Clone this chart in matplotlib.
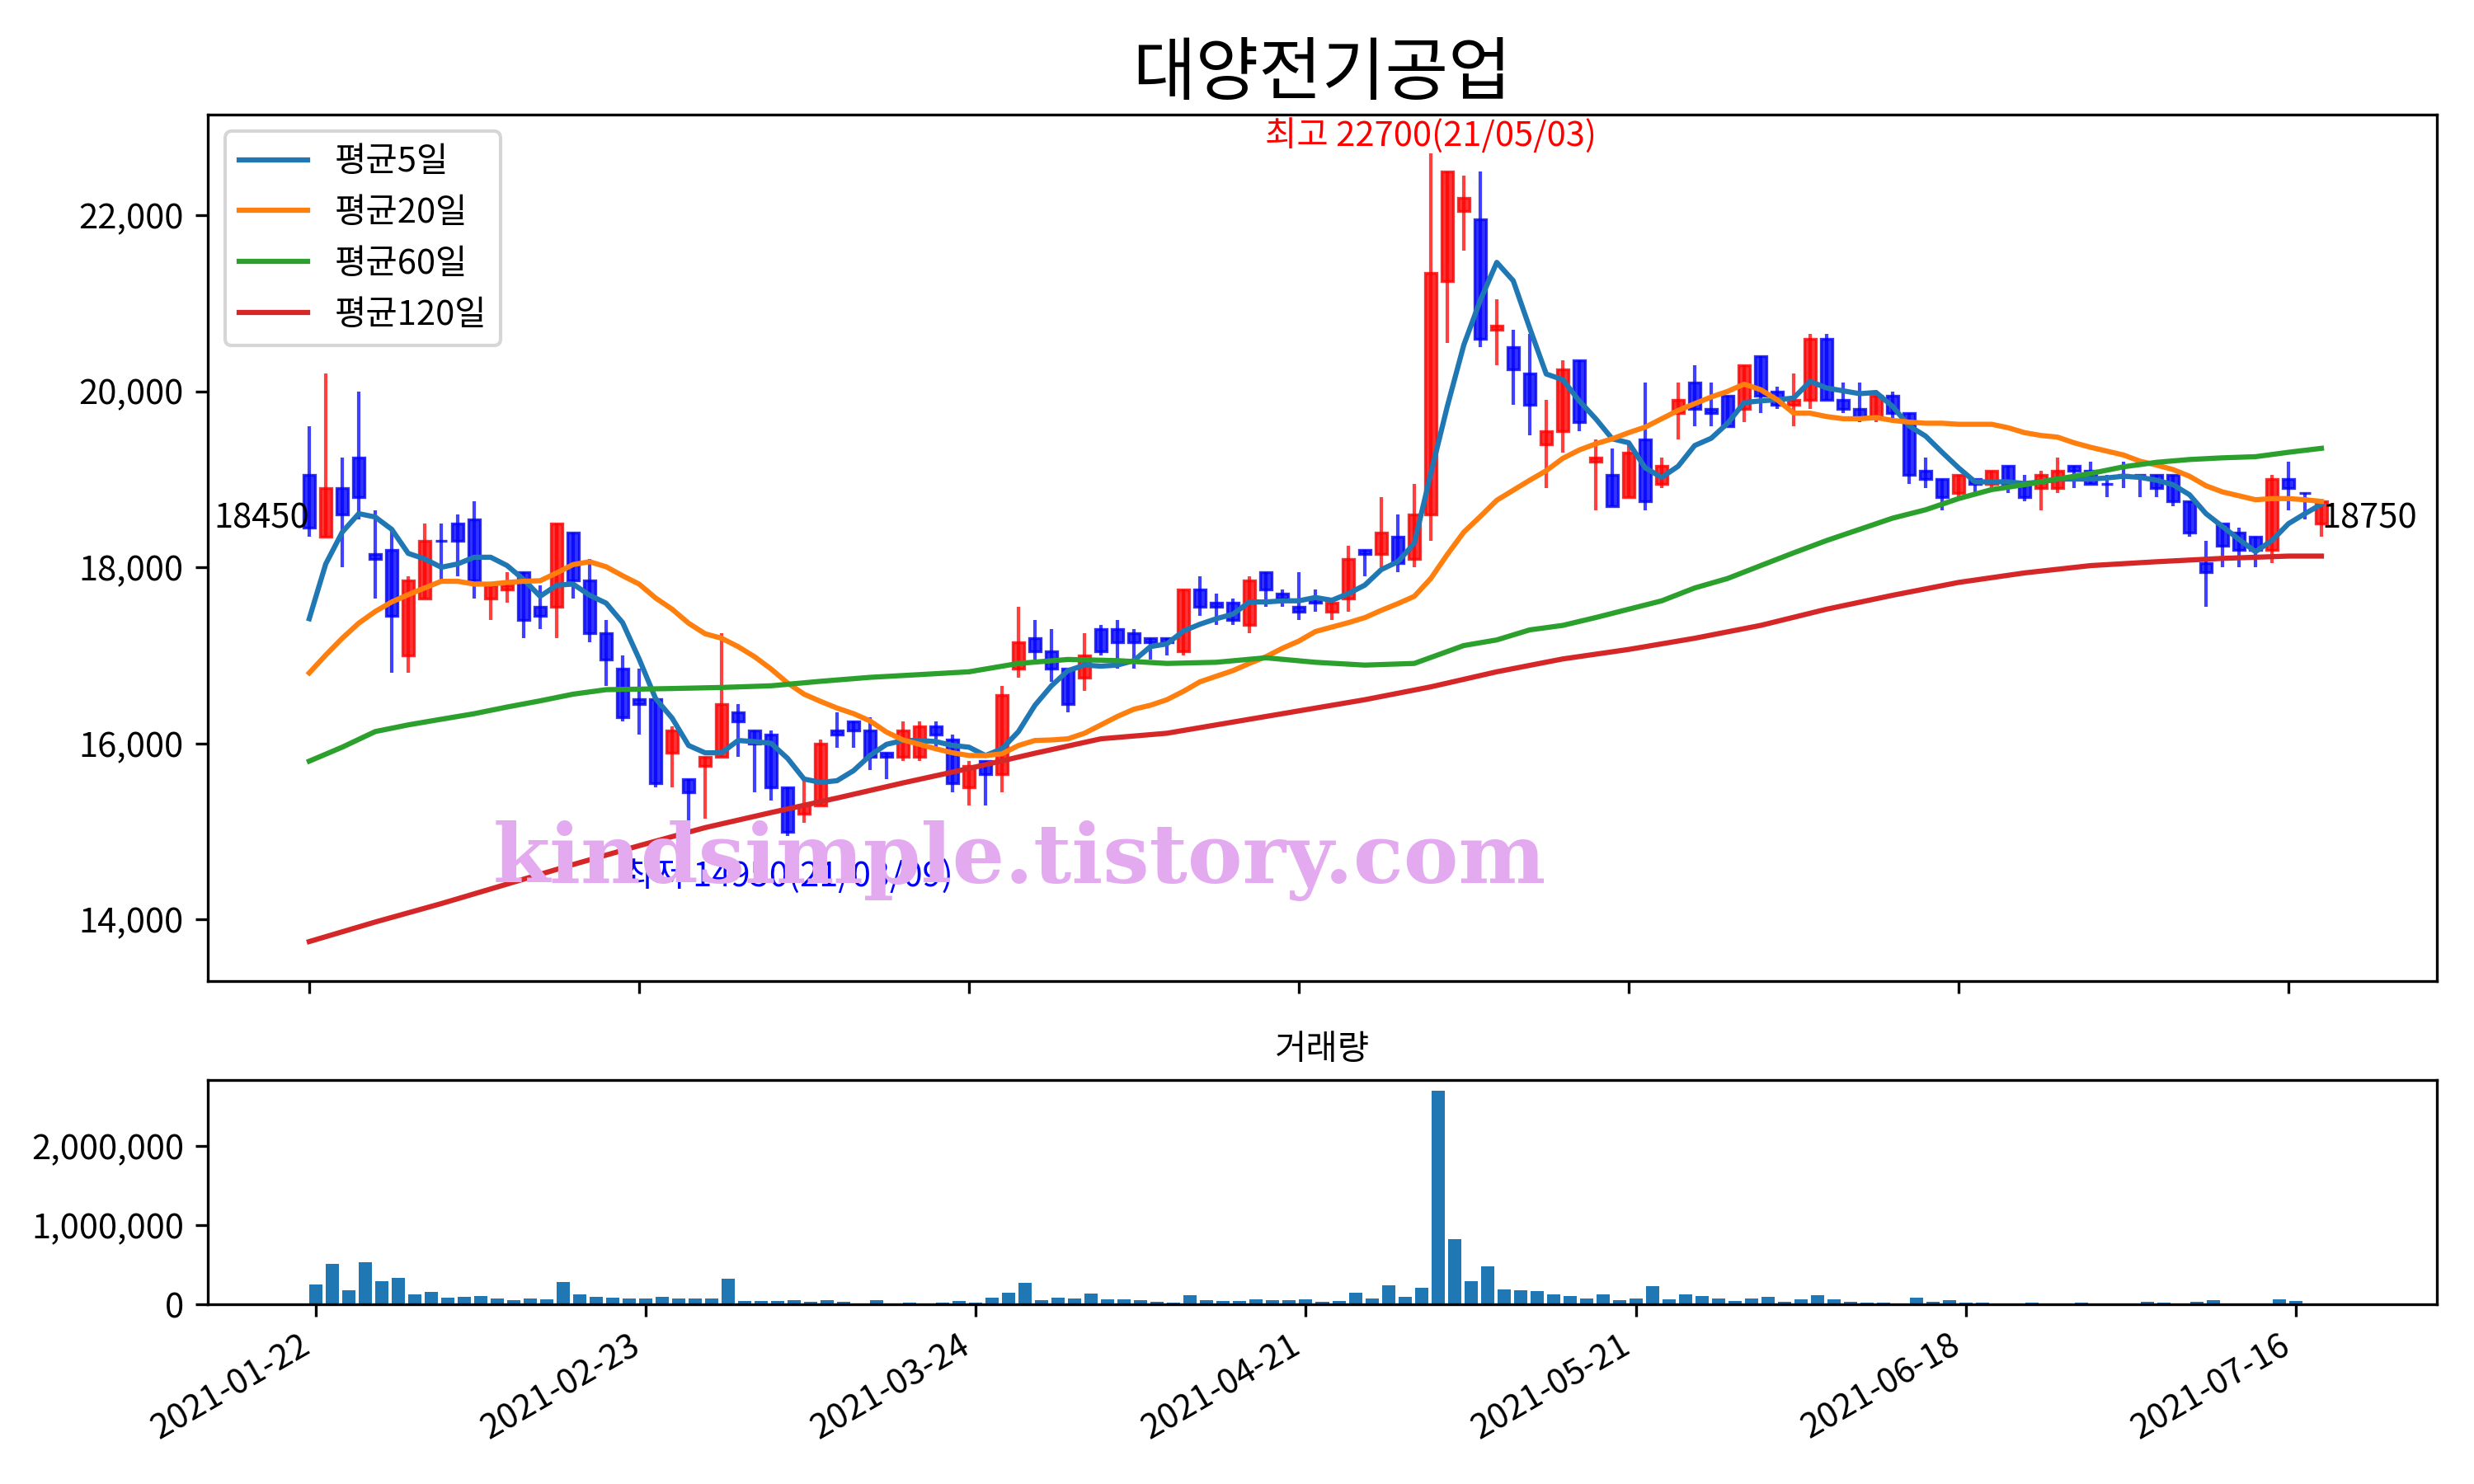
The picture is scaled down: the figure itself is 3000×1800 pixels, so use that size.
import matplotlib
matplotlib.use('Agg')
import matplotlib.pyplot as plt
from matplotlib.patches import Rectangle
from matplotlib.ticker import FuncFormatter

plt.rcParams['font.family'] = ['Noto Sans CJK KR', 'DejaVu Sans']
plt.rcParams['axes.unicode_minus'] = False

title = '대양전기공업'
tick_pos = [0, 20, 40, 60, 80, 100, 120]
tick_dates = ['2021-01-22', '2021-02-23', '2021-03-24', '2021-04-21',
              '2021-05-21', '2021-06-18', '2021-07-16']

opens = [19050, 18350, 18900, 19250, 18150, 18200, 17000, 17650, 18300, 18500,
         18550, 17650, 17750, 17950, 17550, 17550, 18400, 17850, 17250, 16850,
         16500, 16500, 15900, 15600, 15750, 15850, 16350, 16150, 16100, 15500,
         15200, 15300, 16150, 16250, 16150, 15900, 15850, 15850, 16200, 16050,
         15500, 15800, 15650, 16850, 17200, 17050, 16850, 16750, 17300, 17300,
         17250, 17200, 17200, 17050, 17750, 17600, 17600, 17350, 17950, 17700,
         17550, 17650, 17500, 17650, 18200, 18150, 18350, 18100, 18600, 21250,
         22050, 21950, 20700, 20500, 20200, 19400, 19550, 20350, 19200, 19050,
         18800, 19450, 18950, 19750, 20100, 19800, 19950, 19800, 20400, 20000,
         19850, 19900, 20600, 19900, 19800, 19700, 19950, 19750, 19100, 19000,
         18850, 19000, 18950, 19150, 18950, 18900, 18900, 19150, 19100, 18950,
         19050, 19050, 19050, 19050, 18750, 18050, 18500, 18400, 18350, 18200,
         19000, 18850, 18500]
highs = [19600, 20200, 19250, 20000, 18650, 18450, 17900, 18500, 18500, 18600,
         18750, 17800, 17950, 17950, 17800, 18500, 18400, 18100, 17400, 17000,
         16850, 16500, 16200, 15600, 15850, 17250, 16450, 16150, 16150, 15500,
         15600, 16050, 16350, 16250, 16300, 15900, 16250, 16250, 16250, 16100,
         15800, 15800, 16650, 17550, 17400, 17300, 16850, 17250, 17350, 17400,
         17300, 17200, 17200, 17750, 17900, 17700, 17650, 17900, 17950, 17750,
         17950, 17750, 17650, 18250, 18200, 18800, 18600, 18950, 22700, 22500,
         22450, 22500, 21050, 20700, 20650, 19900, 20350, 20350, 19450, 19350,
         19400, 20100, 19250, 20100, 20300, 20100, 19950, 20300, 20400, 20050,
         20200, 20650, 20650, 20100, 20100, 19950, 20000, 19750, 19250, 19000,
         19050, 19000, 19100, 19150, 19050, 19100, 19250, 19150, 19200, 19050,
         19200, 19050, 19050, 19050, 18750, 18300, 18500, 18450, 18350, 19050,
         19200, 18850, 18750]
lows = [18350, 18350, 18000, 18550, 17650, 16800, 16800, 17650, 17850, 17900,
        17650, 17400, 17600, 17200, 17300, 17200, 17650, 17150, 16650, 16250,
        16100, 15500, 15500, 15050, 15150, 15850, 15850, 15450, 15350, 14950,
        15100, 15300, 15950, 15950, 15700, 15600, 15800, 15800, 15950, 15450,
        15300, 15300, 15450, 16750, 16950, 16700, 16350, 16600, 17000, 16850,
        16850, 16950, 17000, 17000, 17450, 17350, 17350, 17250, 17550, 17550,
        17400, 17500, 17400, 17500, 17900, 18000, 17950, 18000, 18300, 20550,
        21600, 20500, 20300, 19850, 19500, 18900, 19300, 19550, 18650, 18700,
        18800, 18650, 18900, 19450, 19600, 19600, 19600, 19650, 19750, 19800,
        19600, 19800, 19900, 19750, 19650, 19650, 19700, 18950, 18900, 18650,
        18800, 18850, 18900, 18850, 18750, 18650, 18850, 18900, 18950, 18800,
        18900, 18800, 18800, 18700, 18350, 17550, 18000, 18000, 18000, 18050,
        18650, 18550, 18350]
closes = [18450, 18900, 18600, 18800, 18100, 17450, 17850, 18300, 18300, 18300,
          17850, 17800, 17800, 17400, 17450, 18500, 17850, 17250, 16950, 16300,
          16450, 15550, 16150, 15450, 15850, 16450, 16250, 16000, 15500, 15000,
          15300, 16000, 16100, 16150, 15850, 15850, 16150, 16200, 16100, 15550,
          15750, 15650, 16550, 17150, 17050, 16850, 16450, 17000, 17050, 17150,
          17150, 17150, 17150, 17750, 17550, 17550, 17400, 17850, 17750, 17650,
          17500, 17600, 17600, 18100, 18150, 18400, 18050, 18600, 21350, 22500,
          22200, 20600, 20750, 20250, 19850, 19550, 20250, 19650, 19250, 18700,
          19300, 18750, 19150, 19900, 19800, 19750, 19600, 20300, 19950, 19850,
          19900, 20600, 19900, 19800, 19700, 19950, 19750, 19050, 19000, 18800,
          19050, 18950, 19100, 18950, 18800, 19050, 19100, 19100, 18950, 18950,
          19050, 19050, 18900, 18750, 18400, 17950, 18250, 18200, 18200, 19000,
          18900, 18850, 18750]
volumes = [247000, 515000, 179000, 529000, 292000, 333000, 127000, 155000, 86000, 96000,
           107000, 76000, 52000, 76000, 65000, 282000, 127000, 96000, 86000, 76000,
           76000, 96000, 76000, 76000, 76000, 323000, 41000, 41000, 41000, 52000,
           31000, 52000, 31000, 10000, 52000, 10000, 21000, 10000, 21000, 41000,
           21000, 86000, 144000, 271000, 52000, 86000, 76000, 134000, 65000, 65000,
           52000, 31000, 21000, 117000, 52000, 41000, 41000, 65000, 52000, 52000,
           65000, 34000, 41000, 144000, 76000, 237000, 96000, 210000, 2694000, 825000,
           292000, 478000, 189000, 179000, 168000, 127000, 107000, 76000, 127000, 52000,
           76000, 230000, 65000, 127000, 107000, 76000, 45000, 76000, 96000, 34000,
           65000, 117000, 65000, 34000, 24000, 24000, 14000, 86000, 34000, 52000,
           24000, 24000, 14000, 14000, 24000, 14000, 14000, 24000, 7000, 14000,
           14000, 34000, 24000, 14000, 34000, 52000, 14000, 14000, 7000, 65000,
           45000, 14000, 14000]

ma5 = [17418, 18040, 18401, 18611, 18573, 18433, 18160, 18097, 18002, 18040,
       18116, 18116, 18021, 17862, 17672, 17798, 17811, 17684, 17595, 17373,
       16961, 16511, 16289, 15978, 15895, 15895, 16035, 16022, 16003, 15832,
       15597, 15559, 15578, 15692, 15864, 15991, 16035, 16035, 16022, 15978,
       15959, 15864, 15940, 16136, 16435, 16656, 16828, 16891, 16879, 16891,
       16942, 17101, 17132, 17278, 17355, 17418, 17469, 17608, 17608, 17621,
       17621, 17659, 17627, 17703, 17799, 17976, 18065, 18274, 19067, 19829,
       20526, 21034, 21465, 21256, 20717, 20197, 20133, 19892, 19689, 19461,
       19416, 19131, 19023, 19150, 19385, 19467, 19638, 19873, 19892, 19905,
       19924, 20114, 20038, 20006, 19974, 19987, 19829, 19607, 19492, 19308,
       19131, 18972, 18972, 18972, 18953, 18972, 19004, 19004, 19004, 19017,
       19036, 19023, 18991, 18940, 18826, 18611, 18465, 18319, 18179, 18306,
       18497, 18611, 18718]
ma20 = [16802, 17005, 17196, 17367, 17500, 17608, 17691, 17767, 17843, 17843,
        17811, 17811, 17830, 17843, 17849, 17938, 18033, 18065, 18008, 17906,
        17811, 17653, 17526, 17367, 17247, 17196, 17101, 16986, 16847, 16688,
        16561, 16479, 16403, 16340, 16257, 16130, 16041, 15991, 15940, 15895,
        15864, 15864, 15883, 15978, 16035, 16041, 16054, 16117, 16212, 16308,
        16390, 16435, 16498, 16593, 16701, 16765, 16828, 16910, 16986, 17082,
        17164, 17272, 17323, 17373, 17430, 17513, 17589, 17672, 17875, 18147,
        18401, 18579, 18763, 18877, 18991, 19099, 19239, 19334, 19404, 19461,
        19531, 19594, 19689, 19784, 19860, 19936, 20000, 20082, 20019, 19905,
        19752, 19752, 19714, 19689, 19689, 19702, 19670, 19651, 19638, 19638,
        19626, 19626, 19626, 19587, 19531, 19499, 19480, 19416, 19365, 19321,
        19277, 19207, 19163, 19112, 19036, 18928, 18858, 18814, 18769, 18782,
        18782, 18769, 18750]
ma60_x = [0, 2, 4, 6, 8, 10, 12, 14, 16, 18, 20, 22, 25, 28, 31, 34, 37, 40, 43, 46,
          49, 52, 55, 58, 61, 64, 67, 70, 72, 74, 76, 78, 80, 82, 84, 86, 88, 90,
          92, 94, 96, 98, 100, 102, 104, 106, 108, 110, 112, 114, 116, 118, 120, 122]
ma60 = [15800, 15959, 16136, 16212, 16276, 16339, 16415, 16485, 16561, 16612,
        16618, 16625, 16637, 16656, 16707, 16752, 16783, 16815, 16910, 16955,
        16942, 16910, 16923, 16974, 16923, 16891, 16910, 17113, 17177, 17291,
        17342, 17431, 17526, 17621, 17767, 17875, 18021, 18166, 18306, 18433,
        18560, 18655, 18782, 18884, 18940, 19004, 19067, 19143, 19194, 19226,
        19245, 19258, 19308, 19353]
ma120_x = [0, 4, 8, 12, 16, 20, 24, 28, 32, 36, 40, 44, 48, 52, 56, 60, 64, 68,
           72, 76, 80, 84, 88, 92, 96, 100, 104, 108, 112, 116, 120, 122]
ma120 = [13751, 13973, 14182, 14404, 14626, 14840, 15045, 15216, 15381, 15553,
         15717, 15890, 16054, 16117, 16244, 16371, 16498, 16644, 16815, 16961,
         17069, 17196, 17342, 17526, 17684, 17830, 17938, 18021, 18065, 18103,
         18129, 18129]

max_label = '최고 22700(21/05/03)'
min_label = '최저 14950(21/03/09)'
watermark = 'kindsimple.tistory.com'

fig = plt.figure(figsize=(10, 6), dpi=300)
ax = fig.add_axes([0.084, 0.339, 0.901, 0.584])
ax_v = fig.add_axes([0.084, 0.121, 0.901, 0.151])

# candles: wick first, translucent body on top
for i in range(len(closes)):
    c = 'r' if closes[i] > opens[i] else 'b'
    ax.vlines(i, lows[i], highs[i], color=c, lw=1.0, alpha=0.75, zorder=2)
    ax.add_patch(Rectangle((i - 0.35, opens[i]), 0.7, closes[i] - opens[i],
                           facecolor=c, edgecolor=c, lw=0.8, alpha=0.8, zorder=2))

ax.plot(range(len(ma5)), ma5, label='평균5일', zorder=3)
ax.plot(range(len(ma20)), ma20, label='평균20일', zorder=3)
ax.plot(ma60_x, ma60, label='평균60일', zorder=3)
ax.plot(ma120_x, ma120, label='평균120일', zorder=3)

ax.text(0, closes[0], str(closes[0]), ha='right')
ax.text(len(closes) - 1, closes[-1], str(closes[-1]), ha='left', va='top')
ax.text(68, max(highs), max_label, color='r', ha='center', va='bottom')
ax.text(29, min(lows) - 250, min_label, color='b', ha='center', va='top')

ax.set_title(title, fontsize=20)
ax.legend(loc='upper left')
ax.set_xlim(-6.15, 129.0)
ax.set_ylim(13304, 23147)
ax.yaxis.set_major_formatter(FuncFormatter(lambda v, p: f'{v:,.0f}'))
ax.set_xticks(tick_pos)
ax.set_xticklabels([])

ax_v.bar(range(len(volumes)), volumes)
ax_v.set_title('거래량', fontsize=10)
ax_v.yaxis.set_major_formatter(FuncFormatter(lambda v, p: f'{v:,.0f}'))
ax_v.set_xticks(tick_pos)
ax_v.set_xticklabels(tick_dates, rotation=30, ha='right')

fig.text(0.412, 0.42, watermark, color='#e4aaf0', fontsize=24, fontweight='bold',
         family='DejaVu Serif', ha='center', va='center')

fig.savefig('out.png')
